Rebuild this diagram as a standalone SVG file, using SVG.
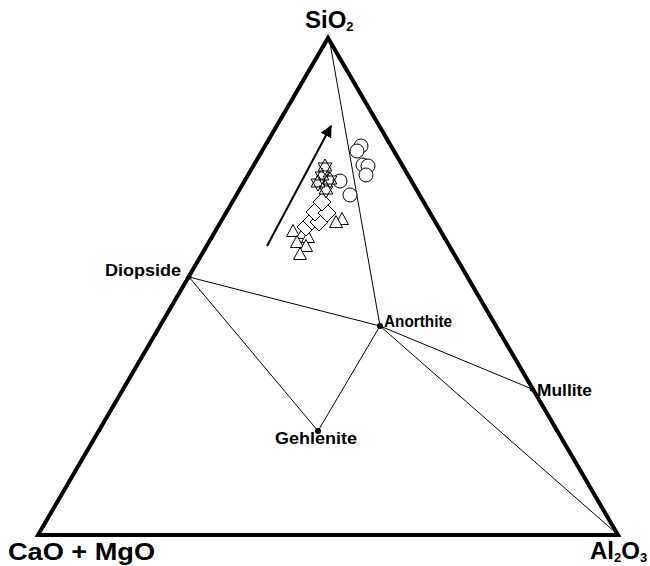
<svg xmlns="http://www.w3.org/2000/svg" xmlns:xlink="http://www.w3.org/1999/xlink" width="650" height="566" viewBox="0 0 650 566">
<style>
.lbl{font-family:"Liberation Sans",Arial,sans-serif;font-weight:bold;fill:#000}
.big{font-size:24px}
.sm{font-size:16px}
.sub{font-size:13px}
.thin{stroke:#000;stroke-width:1;fill:none}
.mk{fill:#fff;stroke:#000;stroke-width:1}
.dot{fill:#000}
</style>
<defs>
<circle id="circ" r="7"/>
<polygon id="tri" points="0,-7.5 6.5,4.5 -6.5,4.5"/>
<polygon id="dia" points="0,-9 9,0 0,9 -9,0"/>
<path id="star" d="M0,-8 L6.9,4 L-6.9,4Z M0,8 L6.9,-4 L-6.9,-4Z"/>
<marker id="ah" viewBox="0 0 10 10" refX="9" refY="5" markerWidth="6" markerHeight="6" orient="auto" markerUnits="strokeWidth">
<path d="M0,0 L10,5 L0,10Z" fill="#000"/>
</marker>
</defs>
<rect width="650" height="566" fill="#fff"/>
<g id="frame">
<polygon points="328,38 38,535 618,535" fill="none" stroke="#000" stroke-width="4" stroke-linejoin="miter"/>
</g>
<g id="connectors">
<line class="thin" x1="330" y1="43" x2="380" y2="326"/>
<line class="thin" x1="189" y1="277" x2="380" y2="326"/>
<line class="thin" x1="380" y1="326" x2="532" y2="389"/>
<line class="thin" x1="189" y1="277" x2="318" y2="431"/>
<line class="thin" x1="318" y1="431" x2="380" y2="326"/>
<line class="thin" x1="380" y1="326" x2="616" y2="533"/>
<line x1="267" y1="246" x2="331" y2="126" stroke="#000" stroke-width="2" marker-end="url(#ah)"/>
</g>
<g id="data" class="mk">
<use xlink:href="#circ" x="361" y="146"/>
<use xlink:href="#circ" x="357" y="151"/>
<use xlink:href="#circ" x="363" y="165"/>
<use xlink:href="#circ" x="368" y="166"/>
<use xlink:href="#circ" x="366" y="175"/>
<use xlink:href="#circ" x="340" y="181"/>
<use xlink:href="#circ" x="350" y="195"/>
<use xlink:href="#tri" x="342" y="220"/>
<use xlink:href="#tri" x="336" y="223"/>
<use xlink:href="#tri" x="293" y="232"/>
<use xlink:href="#tri" x="303" y="234"/>
<use xlink:href="#tri" x="308" y="238"/>
<use xlink:href="#tri" x="297" y="243"/>
<use xlink:href="#tri" x="306" y="247"/>
<use xlink:href="#tri" x="300" y="255"/>
<use xlink:href="#dia" x="306" y="227"/>
<use xlink:href="#dia" x="312" y="221"/>
<use xlink:href="#dia" x="319" y="222"/>
<use xlink:href="#dia" x="315" y="212"/>
<use xlink:href="#dia" x="327" y="213"/>
<use xlink:href="#dia" x="322" y="202"/>
<use xlink:href="#star" x="326" y="190"/>
<use xlink:href="#star" x="318" y="183"/>
<use xlink:href="#star" x="330" y="180"/>
<use xlink:href="#star" x="322" y="176"/>
<use xlink:href="#star" x="325" y="167"/>
</g>
<g id="apex-sio2">
<text class="lbl big" x="305" y="28">SiO<tspan class="sub" dy="3">2</tspan></text>
</g>
<g id="apex-cao">
<text class="lbl big" x="8" y="560" textLength="147" lengthAdjust="spacingAndGlyphs">CaO + MgO</text>
</g>
<g id="apex-al2o3">
<text class="lbl big" x="590" y="559">Al<tspan class="sub" dy="3">2</tspan><tspan dy="-3">O</tspan><tspan class="sub" dy="3">3</tspan></text>
</g>
<g id="diopside">
<circle class="dot" cx="189" cy="277" r="2.5"/>
<text class="lbl sm" x="105" y="276" textLength="76" lengthAdjust="spacingAndGlyphs">Diopside</text>
</g>
<g id="anorthite">
<circle class="dot" cx="380" cy="326" r="3"/>
<text class="lbl sm" x="384" y="327" textLength="68" lengthAdjust="spacingAndGlyphs">Anorthite</text>
</g>
<g id="mullite">
<circle class="dot" cx="532" cy="389" r="2.5"/>
<text class="lbl sm" x="537" y="396" textLength="55" lengthAdjust="spacingAndGlyphs">Mullite</text>
</g>
<g id="gehlenite">
<circle class="dot" cx="318" cy="431" r="3"/>
<text class="lbl sm" x="275" y="444" textLength="82" lengthAdjust="spacingAndGlyphs">Gehlenite</text>
</g>
</svg>
